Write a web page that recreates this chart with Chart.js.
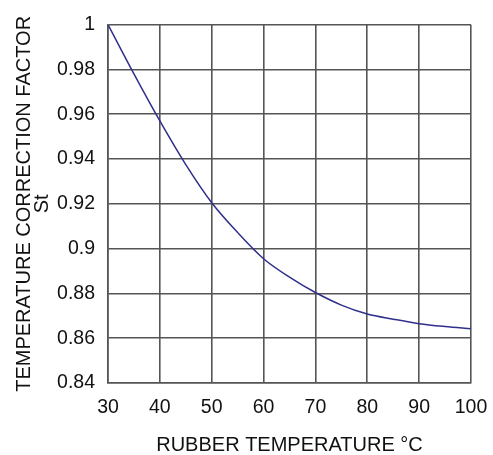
<!DOCTYPE html>
<html>
<head>
<meta charset="utf-8">
<script src="https://cdn.jsdelivr.net/npm/chart.js@4/dist/chart.umd.min.js"></script>
<style>
  html, body { margin: 0; padding: 0; background: #fff; }
  #wrap { width: 493px; height: 455px; }
</style>
</head>
<body>
<div id="wrap"><canvas id="c" width="493" height="455"></canvas></div>
<script>
// rubber temperature (°C) vs correction factor St
const temps   = [30, 35, 40, 45, 50, 55, 60, 65, 70, 75, 80, 85, 90, 95, 100];
const factors = [1.0, 0.978, 0.957, 0.9375, 0.9205, 0.9072, 0.8955, 0.8873, 0.8804,
                 0.8748, 0.8708, 0.8685, 0.8665, 0.8652, 0.8642];
const xTicks  = [30, 40, 50, 60, 70, 80, 90, 100];
const yTicks  = [0.84, 0.86, 0.88, 0.9, 0.92, 0.94, 0.96, 0.98, 1];

const FONT = "'Liberation Sans', Arial, Helvetica, sans-serif";
const GRID = "#555";

new Chart(document.getElementById("c").getContext("2d"), {
  type: "line",
  data: {
    datasets: [{
      data: temps.map((t, i) => ({ x: t, y: factors[i] })),
      borderColor: "#2f2f8c",
      borderWidth: 1.5,
      pointRadius: 0,
      cubicInterpolationMode: "monotone",
      fill: false
    }]
  },
  options: {
    responsive: false,
    animation: false,
    layout: { padding: { top: 22, right: 22, left: 0, bottom: 0 } },
    plugins: { legend: { display: false }, tooltip: { enabled: false } },
    scales: {
      x: {
        type: "linear",
        min: xTicks[0], max: xTicks[xTicks.length - 1],
        afterBuildTicks: (s) => { s.ticks = xTicks.map(v => ({ value: v })); },
        // fixed axis box so the plot area lands where the reference has it
        afterFit: (s) => { s.height = 72; s.paddingLeft = 0; s.paddingRight = 0; },
        grid: { color: GRID, lineWidth: 1.6, drawTicks: false },
        border: { color: GRID, width: 1.6 },
        ticks: { color: "#111", padding: 13, font: { family: FONT, size: 19.5 } },
        title: {
          display: true, text: "RUBBER TEMPERATURE °C", color: "#111",
          padding: { top: 0, bottom: 0 },
          font: { family: FONT, size: 20, lineHeight: 1 }
        }
      },
      y: {
        min: yTicks[0], max: yTicks[yTicks.length - 1],
        afterBuildTicks: (s) => { s.ticks = yTicks.map(v => ({ value: v })); },
        afterFit: (s) => { s.width = 108; },
        grid: { color: GRID, lineWidth: 1.6, drawTicks: false },
        border: { color: GRID, width: 1.6 },
        ticks: {
          color: "#111", padding: 13, font: { family: FONT, size: 19.5 },
          callback: (v) => String(+(+v).toFixed(2))
        },
        title: {
          display: true, text: ["TEMPERATURE CORRECTION FACTOR", "St"], color: "#111",
          padding: { top: 16, bottom: 0 },
          font: { family: FONT, size: 20, lineHeight: 0.88 }
        }
      }
    }
  }
});
</script>
</body>
</html>
